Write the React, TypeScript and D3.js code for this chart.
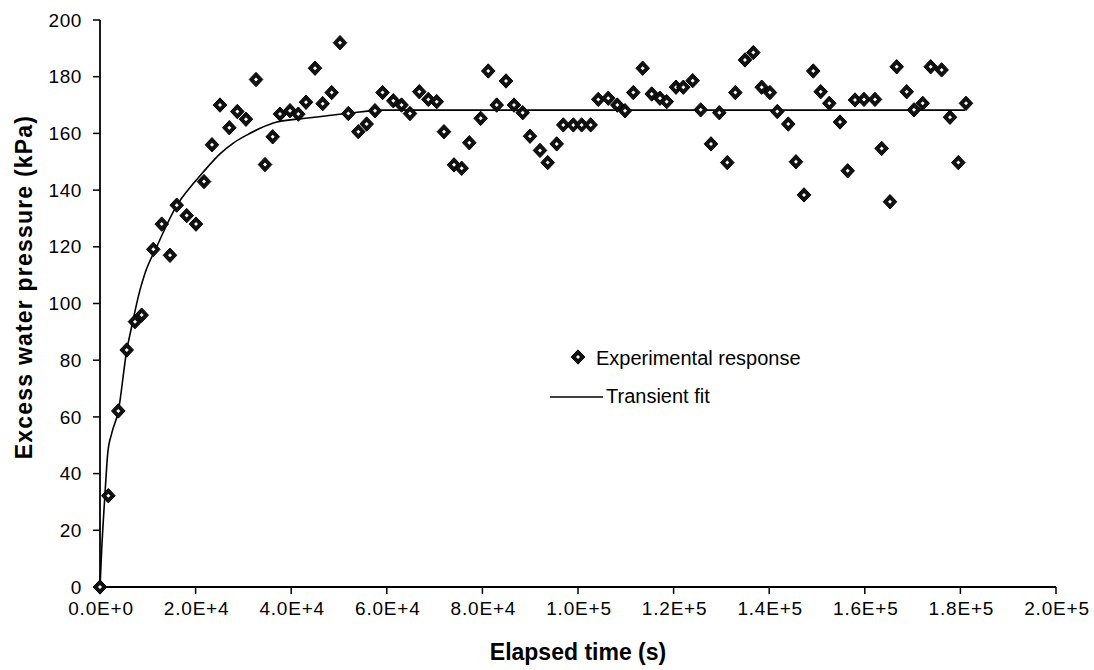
import React from "react";
import * as d3 from "d3";

const W = 1094;
const H = 670;

// Experimental response: elapsed time (s) and excess water pressure (kPa)
const expTime = [
  0, 1740, 3830, 5590, 7320, 8720,
  11150, 12910, 14640, 16050, 18140, 20080, 21760, 23430, 25100,
  27050, 28720, 30540, 32640, 34520, 36130, 37660, 39750, 41490, 43100,
  44980, 46590, 48470, 50210, 51950, 54040, 55780, 57530, 59120, 61360,
  63090, 64850, 66800, 68680, 70440, 71960, 74060, 75670, 77260, 79640,
  81230, 82990, 84940, 86610, 88430, 89960, 92050, 93660, 95540, 96920,
  99020, 100770, 102650, 104240, 106330, 108220, 109830, 111570, 113530, 115420,
  117150, 118550, 120500, 122030, 123990, 125670, 127820, 129560, 131230, 132910,
  134930, 136670, 138430, 140160, 141690, 143990, 145600, 147280, 149220, 150770,
  152570, 154810, 156420, 157950, 159830, 162130, 163530, 165270, 166670, 168760,
  170290, 172110, 173780, 176070, 177820, 179560, 181170,
];
const expPressure = [
  0, 32.2, 62.1, 83.6, 93.6, 95.9,
  119.1, 128, 117, 134.7, 131, 128, 143, 156, 170,
  162, 167.7, 165, 179, 149, 158.8, 166.8, 168, 166.8, 171,
  183, 170.5, 174.4, 192, 167, 160.6, 163.3, 168, 174.4, 171.5,
  170, 167, 174.7, 172, 171.2, 160.6, 148.9, 147.7, 156.7, 165.3,
  182, 170, 178.5, 170, 167.3, 159, 154, 149.7, 156.3, 163,
  163, 163, 163, 172, 172.4, 170, 168, 174.4, 183, 173.9,
  172.4, 171.2, 176.3, 176.3, 178.6, 168.3, 156.3, 167.3, 149.7, 174.4,
  185.9, 188.5, 176.3, 174.4, 167.7, 163.3, 150, 138.3, 182, 174.7,
  170.6, 164, 146.8, 171.8, 172, 172, 154.7, 135.9, 183.5, 174.7,
  168.3, 170.6, 183.5, 182.4, 165.7, 149.7, 170.6,
];

// Transient fit
const fitTime = [
  0, 350, 1050, 1610, 2450, 3830, 5590, 6620, 8370, 9400, 11860, 16050,
  19520, 21610, 25100, 27890, 30690, 33500, 37000, 43930, 51590, 59270, 181000,
];
const fitPressure = [
  0, 13, 33, 47, 54.2, 62, 83.4, 91.8, 104.8, 110.6, 120, 134.5,
  142.3, 146.4, 152.8, 156.6, 159.4, 161.8, 164, 165.5, 167, 168.2, 168.2,
];

const xTicks = d3.range(0, 200001, 20000);
const yTicks = d3.range(0, 201, 20);

const xTitle = "Elapsed time (s)";
const yTitle = "Excess water pressure (kPa)";
const legendLabels = ["Experimental response", "Transient fit"];

const FONT = "'Liberation Sans', Arial, Helvetica, sans-serif";

const fmtX = (v: number) => d3.format(".1e")(v).replace("e", "E");

function Diamond({ cx, cy }: { cx: number; cy: number }) {
  const rx = 6.8;
  const ry = 7.2;
  const ir = 2;
  return (
    <g>
      <path
        d={`M${cx},${cy - ry}L${cx + rx},${cy}L${cx},${cy + ry}L${cx - rx},${cy}Z`}
        fill="#111"
        stroke="#000"
        strokeWidth={1}
      />
      <path
        d={`M${cx},${cy - ir}L${cx + ir},${cy}L${cx},${cy + ir}L${cx - ir},${cy}Z`}
        fill="#fff"
      />
    </g>
  );
}

export default function App() {
  const x = d3.scaleLinear().domain([0, 200000]).range([100, 1056]);
  const y = d3.scaleLinear().domain([0, 200]).range([587, 20]);

  const fitLine = d3
    .line<number>()
    .x((_, i) => x(fitTime[i]))
    .y((d) => y(d))
    .curve(d3.curveMonotoneX);

  return (
    <svg
      width={W}
      height={H}
      style={{ position: "absolute", left: 0, top: 0, background: "#fff" }}
      fontFamily={FONT}
    >
      <rect width={W} height={H} fill="#fff" />

      {/* Axes */}
      <line x1={x(0)} x2={x(0)} y1={y(200)} y2={y(0)} stroke="#000" strokeWidth={1.8} />
      <line x1={x(0)} x2={x(200000)} y1={y(0)} y2={y(0)} stroke="#000" strokeWidth={1.8} />

      {yTicks.map((t) => (
        <g key={"y" + t}>
          <line x1={x(0) - 7} x2={x(0)} y1={y(t)} y2={y(t)} stroke="#000" strokeWidth={1.5} />
          <text
            x={82}
            y={y(t)}
            dy="0.35em"
            textAnchor="end"
            fontSize={19}
            letterSpacing={0.6}
            fill="#000"
          >
            {t}
          </text>
        </g>
      ))}

      {xTicks.map((t) => (
        <g key={"x" + t}>
          <line x1={x(t)} x2={x(t)} y1={y(0)} y2={y(0) + 7} stroke="#000" strokeWidth={1.5} />
          <text
            x={x(t) + 1}
            y={615}
            textAnchor="middle"
            fontSize={19}
            letterSpacing={0.8}
            fill="#000"
          >
            {fmtX(t)}
          </text>
        </g>
      ))}

      {/* Fit line */}
      <path d={fitLine(fitPressure) || ""} fill="none" stroke="#000" strokeWidth={1.6} />

      {/* Scatter */}
      {expTime.map((t, i) => (
        <Diamond key={"p" + i} cx={x(t)} cy={y(expPressure[i])} />
      ))}

      {/* Legend */}
      <Diamond cx={578} cy={357} />
      <text x={596} y={365} fontSize={20} fill="#000">
        {legendLabels[0]}
      </text>
      <line x1={550} x2={603} y1={397} y2={397} stroke="#000" strokeWidth={1.6} />
      <text x={606} y={403} fontSize={20} fill="#000">
        {legendLabels[1]}
      </text>

      {/* Axis titles */}
      <text x={578} y={660} textAnchor="middle" fontSize={23} fontWeight="bold" fill="#000">
        {xTitle}
      </text>
      <text
        transform="translate(32,287) rotate(-90)"
        textAnchor="middle"
        fontSize={23}
        fontWeight="bold"
        letterSpacing={1.2}
        fill="#000"
      >
        {yTitle}
      </text>
    </svg>
  );
}
